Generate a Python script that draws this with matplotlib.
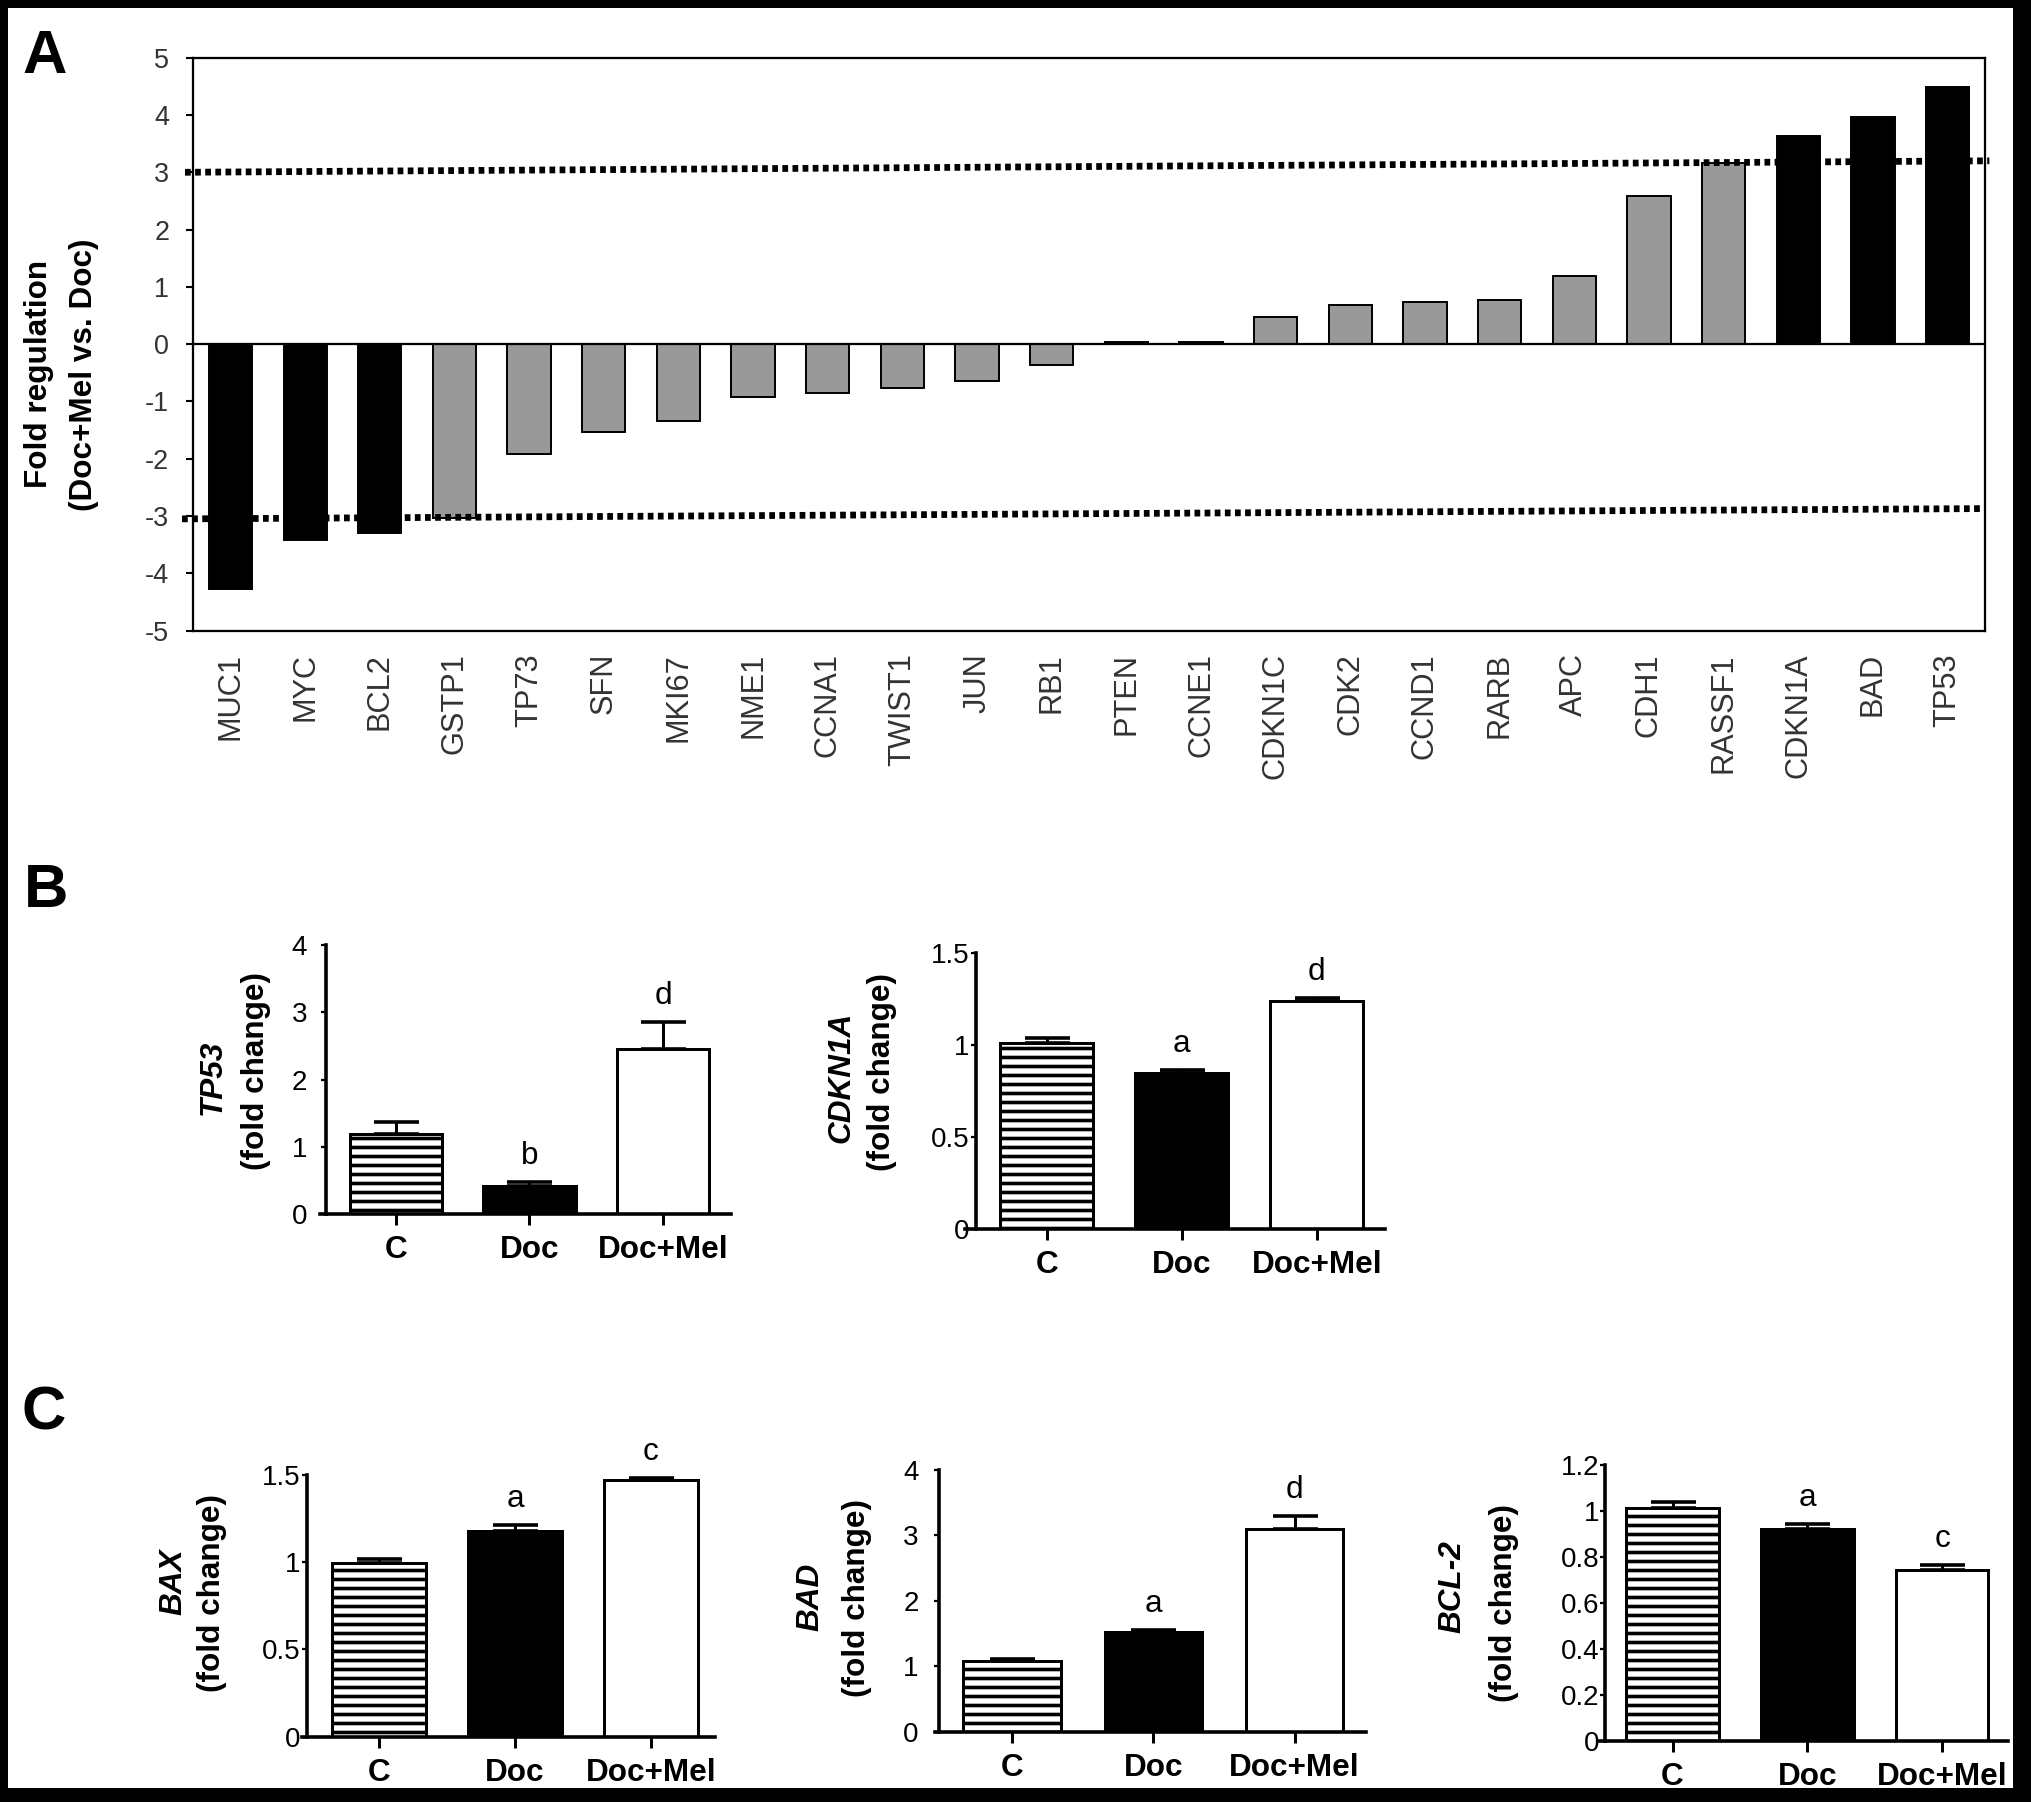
import matplotlib
matplotlib.use("Agg")
from matplotlib import pyplot as plt
from matplotlib.patches import Rectangle
from matplotlib.ticker import FuncFormatter
import numpy as np

plt.rcParams['font.family'] = ['Liberation Sans', 'DejaVu Sans']
plt.rcParams['axes.unicode_minus'] = False
plt.rcParams['hatch.linewidth'] = 2.4

## Panel A : fold regulation (Doc+Mel vs. Doc)
genes = ["MUC1", "MYC", "BCL2", "GSTP1", "TP73", "SFN", "MKI67", "NME1", "CCNA1",
         "TWIST1", "JUN", "RB1", "PTEN", "CCNE1", "CDKN1C", "CDK2", "CCND1", "RARB",
         "APC", "CDH1", "RASSF1", "CDKN1A", "BAD", "TP53"]
fold = [-4.27, -3.42, -3.30, -3.03, -1.91, -1.53, -1.35, -0.93, -0.85,
        -0.77, -0.64, -0.37, 0.03, 0.03, 0.47, 0.69, 0.73, 0.77,
        1.19, 2.58, 3.16, 3.63, 3.97, 4.48]
regulated = ["MUC1", "MYC", "BCL2", "CDKN1A", "BAD", "TP53"]
cutoff_up = [3.0, 3.2]      # hand drawn line : left end, right end
cutoff_down = [-3.05, -2.87]

## Panels B and C : fold change vs control
groups = ["C", "Doc", "Doc+Mel"]
tp53_mean, tp53_err, tp53_sig = [1.19, 0.41, 2.46], [0.18, 0.07, 0.39], ["", "b", "d"]
cdkn1a_mean, cdkn1a_err, cdkn1a_sig = [1.01, 0.85, 1.24], [0.03, 0.016, 0.016], ["", "a", "d"]
bax_mean, bax_err, bax_sig = [0.995, 1.18, 1.47], [0.023, 0.034, 0.015], ["", "a", "c"]
bad_mean, bad_err, bad_sig = [1.075, 1.53, 3.10], [0.03, 0.025, 0.19], ["", "a", "d"]
bcl2_mean, bcl2_err, bcl2_sig = [1.015, 0.92, 0.744], [0.025, 0.023, 0.021], ["", "a", "c"]

W, H, DPI = 2031, 1802, 108
fig = plt.figure(figsize=(W / DPI, H / DPI), dpi=DPI)
fig.patch.set_facecolor('black')
fig.patches.append(Rectangle((8 / W, 14 / H), (W - 26) / W, (H - 22) / H,
                             transform=fig.transFigure, facecolor='white',
                             edgecolor='none', zorder=-1))


def px_axes(left, right, top, bottom):
    return fig.add_axes([left / W, 1 - bottom / H, (right - left) / W, (bottom - top) / H])


def px_text(x, y, s, **kw):
    fig.text(x / W, 1 - y / H, s, **kw)


fmt = FuncFormatter(lambda v, p: "{:g}".format(round(v, 2)))

## ---- panel A
axA = px_axes(193.2, 1984.9, 57.7, 630.6)
xa = np.arange(len(genes))
colors = ['black' if g in regulated else '#999999' for g in genes]
axA.bar(xa, fold, width=0.58, color=colors, edgecolor='black', linewidth=1.3, zorder=2)
axA.set_xlim(-0.5, len(genes) - 0.5)
axA.set_ylim(-5, 5)
axA.axhline(0, color='black', lw=1.5, zorder=3)
axA.plot([-0.61, 23.56], cutoff_up, color='black', lw=4.5, ls=(0, (0.85, 0.65)),
         dash_capstyle='butt', clip_on=False, zorder=4)
axA.plot([-0.65, 23.49], cutoff_down, color='black', lw=4.5, ls=(0, (0.85, 0.65)),
         dash_capstyle='butt', clip_on=False, zorder=4)
axA.set_xticks(xa, genes, rotation=90, fontsize=20.5, color='#333333')
axA.tick_params(axis='x', length=0, pad=15)
axA.set_yticks(np.arange(-5, 6))
axA.yaxis.set_major_formatter(fmt)
axA.tick_params(axis='y', length=5, width=1.4, pad=11, labelsize=18, labelcolor='#333333')
for sp in axA.spines.values():
    sp.set_linewidth(1.5)

px_text(39, 374, "Fold regulation", rotation=90, ha='center', va='center',
        fontsize=21, fontweight='bold')
px_text(84, 375, "(Doc+Mel vs. Doc)", rotation=90, ha='center', va='center',
        fontsize=21, fontweight='bold')


## ---- small bar panels
def small_panel(box, c0, step, spine_px, ymax, ystep, means, errs, sig,
                gene, gene_xy, fold_xy, ypad):
    left, right, top, bottom = box
    ax = px_axes(left, right, top, bottom)
    x = np.arange(len(groups))
    w = 0.69
    ax.bar(x[0], means[0], width=w, color='white', edgecolor='black', hatch='--',
           linewidth=2.0, zorder=2)
    ax.bar(x[1], means[1], width=w, color='black', edgecolor='black', linewidth=2.0, zorder=2)
    ax.bar(x[2], means[2], width=w, color='white', edgecolor='black', linewidth=2.0, zorder=2)
    ax.errorbar(x, means, yerr=[np.zeros(len(x)), errs], fmt='none', ecolor='black',
                elinewidth=2.0, capsize=15, capthick=2.4, zorder=3)
    ax.set_xlim((left - c0) / step, (right - c0) / step)
    ax.set_ylim(0, ymax)
    ax.spines[['top', 'right']].set_visible(False)
    ax.spines['left'].set_position(('data', (spine_px - c0) / step))
    ax.spines['left'].set_linewidth(2.4)
    ax.spines['bottom'].set_linewidth(2.4)
    ax.set_xticks(x, groups, fontsize=21, fontweight='bold')
    ax.tick_params(axis='x', direction='out', length=7, width=2, pad=7)
    ax.set_yticks(np.arange(0, ymax + ystep / 2, ystep))
    ax.yaxis.set_major_formatter(fmt)
    ax.tick_params(axis='y', direction='out', length=3.5, width=1.5, pad=ypad,
                   labelsize=18.5)
    for i, t in enumerate(sig):
        if t:
            ax.annotate(t, (x[i], means[i] + errs[i]), xytext=(0, 12),
                        textcoords='offset points', ha='center', va='baseline',
                        fontsize=21)
    px_text(gene_xy[0], gene_xy[1], gene, rotation=90, ha='center', va='center',
            fontsize=21, fontweight='bold', fontstyle='italic')
    px_text(fold_xy[0], fold_xy[1], "(fold change)", rotation=90, ha='center',
            va='center', fontsize=21, fontweight='bold')
    return ax


small_panel((320, 731, 945, 1214), 395.8, 133.65, 326, 4, 1,
            tp53_mean, tp53_err, tp53_sig, "TP53", (213, 1077), (256, 1071), 9)
small_panel((965.4, 1385, 953.3, 1229), 1046.9, 134.95, 975.6, 1.5, 0.5,
            cdkn1a_mean, cdkn1a_err, cdkn1a_sig, "CDKN1A", (841, 1077), (882, 1072), 0.5)
small_panel((301.7, 715, 1475, 1736.7), 379.3, 135.7, 306.7, 1.5, 0.5,
            bax_mean, bax_err, bax_sig, "BAX", (173, 1582), (212, 1593), 0.5)
small_panel((934.6, 1366, 1470, 1731.7), 1012, 141.25, 938.9, 4, 1,
            bad_mean, bad_err, bad_sig, "BAD", (810, 1597), (857, 1598), 10)
small_panel((1598, 2008, 1465, 1741), 1672.5, 134.75, 1605, 1.2, 0.2,
            bcl2_mean, bcl2_err, bcl2_sig, "BCL-2", (1452, 1587), (1504, 1603), 0.5)

## ---- panel letters
for letter, lx, ly in [("A", 45, 73), ("B", 46, 907), ("C", 44, 1430)]:
    px_text(lx, ly, letter, ha='center', va='baseline', fontsize=41, fontweight='bold')

fig.savefig('out.png', dpi=DPI)
